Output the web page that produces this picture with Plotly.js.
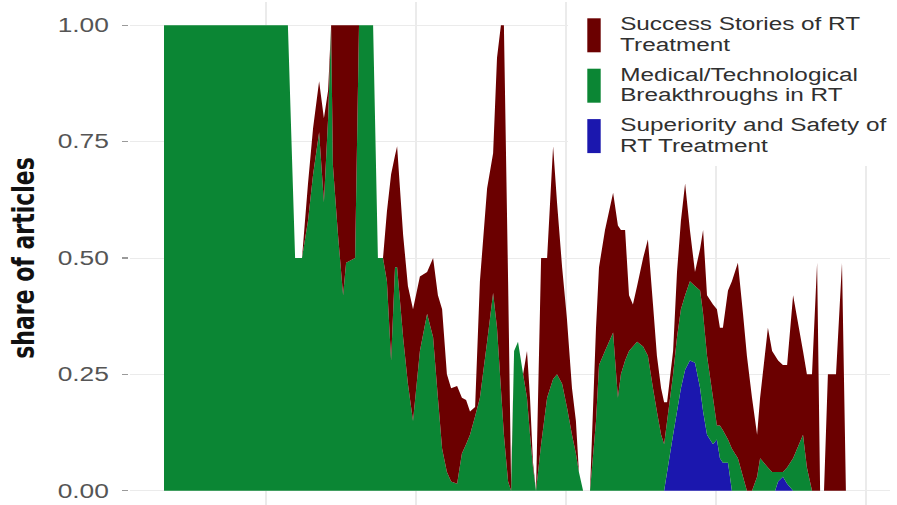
<!DOCTYPE html>
<html>
<head>
<meta charset="utf-8">
<script src="https://cdn.plot.ly/plotly-3.0.1.min.js"></script>
<style>
  html, body { margin: 0; padding: 0; background: #ffffff; overflow: hidden; }
  /* the figure is laid out narrow and widened horizontally */
  #chart { width: 664px; height: 514px; transform: scaleX(1.350904); transform-origin: 0 0; }
</style>
</head>
<body>
<div id="chart"></div>
<script>
// Publication dates (decimal years) of each observation
const years = [
  1996.60, 2000.73, 2000.97, 2001.20, 2001.40, 2001.57, 2001.77, 2001.93, 2002.07, 2002.17,
  2002.23, 2002.40, 2002.57, 2002.67, 2002.97, 2003.10, 2003.57, 2003.73, 2003.90, 2004.03,
  2004.17, 2004.30, 2004.37, 2004.57, 2004.73, 2004.90, 2005.13, 2005.37, 2005.57, 2005.73,
  2005.87, 2006.03, 2006.17, 2006.37, 2006.53, 2006.67, 2006.80, 2006.97, 2007.13, 2007.37,
  2007.57, 2007.70, 2007.83, 2007.93, 2008.07, 2008.17, 2008.27, 2008.40, 2008.57, 2008.70,
  2008.80, 2008.90, 2009.00, 2009.17, 2009.37, 2009.57, 2009.70, 2009.87, 2010.03, 2010.20,
  2010.33, 2010.43, 2010.57, 2010.80, 2011.00, 2011.10, 2011.30, 2011.57, 2011.73, 2011.83,
  2011.97, 2012.10, 2012.23, 2012.37, 2012.57, 2012.73, 2012.90, 2013.03, 2013.17, 2013.27,
  2013.37, 2013.57, 2013.70, 2013.83, 2013.97, 2014.13, 2014.30, 2014.47, 2014.57, 2014.70,
  2014.90, 2015.03, 2015.13, 2015.23, 2015.40, 2015.53, 2015.73, 2015.90, 2016.03, 2016.20,
  2016.37, 2016.47, 2016.73, 2016.87, 2016.97, 2017.07, 2017.23, 2017.37, 2017.57, 2017.90,
  2018.03, 2018.20, 2018.37, 2018.47, 2018.60, 2018.73, 2019.00, 2019.20, 2019.33
];

// Share of articles per frame
const superiority = [
  0, 0, 0, 0, 0, 0, 0, 0, 0, 0,
  0, 0, 0, 0, 0, 0, 0, 0, 0, 0,
  0, 0, 0, 0, 0, 0, 0, 0, 0, 0,
  0, 0, 0, 0, 0, 0, 0, 0, 0, 0,
  0, 0, 0, 0, 0, 0, 0, 0, 0, 0,
  0, 0, 0, 0, 0, 0, 0, 0, 0, 0,
  0, 0, 0, 0, 0, 0, 0, 0, 0, 0,
  0, 0, 0, 0, 0, 0, 0, 0, 0, 0,
  0.04, 0.12, 0.17, 0.22, 0.26, 0.28, 0.275, 0.22, 0.17, 0.12,
  0.10, 0.11, 0.07, 0.06, 0.06, 0, 0, 0, 0, 0,
  0, 0, 0, 0, 0, 0.02, 0.03, 0.015, 0, 0,
  0, 0, 0, 0, 0, 0, 0, 0, 0
];

const breakthroughs = [
  1, 1, 0.5, 0.5, 0.58, 0.68, 0.77, 0.62, 0.80, 1.00,
  0.70, 0.55, 0.42, 0.49, 0.50, 1.00, 1.00, 0.50, 0.50, 0.45,
  0.28, 0.48, 0.48, 0.33, 0.23, 0.15, 0.30, 0.38, 0.33, 0.20,
  0.09, 0.04, 0.02, 0.015, 0.08, 0.10, 0.12, 0.16, 0.20, 0.32,
  0.425, 0.35, 0.22, 0.12, 0.02, 0, 0.30, 0.32, 0.25, 0.20,
  0.12, 0.05, 0, 0.10, 0.20, 0.24, 0.25, 0.23, 0.18, 0.12,
  0.08, 0.04, 0, 0, 0.15, 0.27, 0.30, 0.34, 0.20, 0.25,
  0.28, 0.30, 0.31, 0.32, 0.31, 0.29, 0.22, 0.17, 0.12, 0.10,
  0.11, 0.13, 0.16, 0.17, 0.16, 0.17, 0.165, 0.21, 0.21, 0.17,
  0.10, 0.03, 0.07, 0.07, 0.05, 0.09, 0.07, 0.03, 0, 0,
  0.03, 0.07, 0.05, 0.04, 0.04, 0.02, 0.01, 0.035, 0.07, 0.12,
  0.05, 0, 0, 0, 0, 0, 0, 0, 0
];

const successStories = [
  0, 0, 0, 0, 0.08, 0.10, 0.11, 0.18, 0.06, 0,
  0.30, 0.45, 0.58, 0.51, 0.50, 0, 0, 0, 0, 0.15,
  0.40, 0.24, 0.26, 0.22, 0.21, 0.24, 0.16, 0.09, 0.17, 0.22,
  0.30, 0.21, 0.20, 0.21, 0.12, 0.095, 0.05, 0.02, 0.25, 0.33,
  0.30, 0.58, 0.78, 0.88, 0.43, 0.02, 0, 0, 0, 0.10,
  0.08, 0.01, 0, 0.40, 0.30, 0.50, 0.37, 0.25, 0.19, 0.10,
  0.07, 0, 0, 0, 0.20, 0.21, 0.26, 0.30, 0.37, 0.31,
  0.28, 0.12, 0.09, 0.12, 0.19, 0.25, 0.18, 0.12, 0.10, 0.09,
  0.04, 0.05, 0.14, 0.19, 0.24, 0.11, 0.03, 0.09, 0.18, 0.13,
  0.20, 0.25, 0.21, 0.22, 0.32, 0.36, 0.42, 0.35, 0.29, 0.20,
  0.09, 0.13, 0.30, 0.26, 0.25, 0.24, 0.23, 0.22, 0.35, 0.18,
  0.20, 0.25, 0.49, 0, 0, 0.25, 0.25, 0.49, 0
];

const seriesNames = [
  "Success Stories of RT Treatment",
  "Medical/Technological Breakthroughs in RT",
  "Superiority and Safety of RT Treatment"
];
const legendLines = [
  ["Success Stories of RT", "Treatment"],
  ["Medical/Technological", "Breakthroughs in RT"],
  ["Superiority and Safety of", "RT Treatment"]
];
const seriesColors = ["#6b0000", "#0b8634", "#1b17ae"];

const yTickVals = [0, 0.25, 0.5, 0.75, 1];
const yTickText = ["0.00", "0.25", "0.50", "0.75", "1.00"];
const xGridVals = [2000, 2005, 2010, 2015, 2020];

// Figure geometry (layout pixels before the horizontal widening)
const STRETCH = 897 / 664;
const FIG_W = 664, FIG_H = 514;
const MARGIN = { l: 96, r: 5, t: 2, b: 0, pad: 0 };
const plotW = FIG_W - MARGIN.l - MARGIN.r;
const plotH = FIG_H - MARGIN.t - MARGIN.b;
// screen pixel -> paper fraction
const fx = sx => (sx / STRETCH - MARGIN.l) / plotW;
const fy = sy => (FIG_H - MARGIN.b - sy) / plotH;

// Stacked areas: bottom layer first
const stackOrder = [
  { y: superiority, k: 2 },
  { y: breakthroughs, k: 1 },
  { y: successStories, k: 0 }
];
const traces = stackOrder.map(s => ({
  type: "scatter",
  x: years,
  y: s.y,
  name: seriesNames[s.k],
  stackgroup: "frames",
  mode: "none",
  fillcolor: seriesColors[s.k],
  showlegend: false,
  hoverinfo: "skip"
}));

// Legend panel drawn as keys + labels at the top right of the panel
const KEY_TOP = 18.3, KEY_H = 34, ITEM_STEP = 50.4;
const LINE_PITCH = 20.8;
const shapes = [{
  type: "rect", xref: "paper", yref: "paper", layer: "above",
  x0: fx(568), x1: fx(900), y0: fy(166), y1: fy(-5),
  fillcolor: "#ffffff", line: { width: 0 }
}];
const annotations = [];
const legendFont = { family: "Liberation Sans, Arial, sans-serif", size: 18, color: "#303030" };
legendLines.forEach((lines, i) => {
  const top = KEY_TOP + i * ITEM_STEP;
  const mid = top + KEY_H / 2;
  shapes.push({
    type: "rect", xref: "paper", yref: "paper", layer: "above",
    x0: fx(587.3), x1: fx(600.7), y0: fy(top + KEY_H), y1: fy(top),
    fillcolor: seriesColors[i], line: { width: 0 }
  });
  lines.forEach((txt, j) => {
    annotations.push({
      xref: "paper", yref: "paper",
      x: fx(620), y: fy(mid + (j - 0.5) * LINE_PITCH - 0.8),
      xanchor: "left", yanchor: "middle",
      borderpad: 0, borderwidth: 0,
      text: txt, showarrow: false, font: legendFont
    });
  });
});

const layout = {
  width: FIG_W, height: FIG_H,
  margin: MARGIN,
  paper_bgcolor: "#ffffff",
  plot_bgcolor: "#ffffff",
  showlegend: false,
  xaxis: {
    range: [1995.456, 2020.808],
    tickmode: "array", tickvals: xGridVals,
    showticklabels: false, ticks: "",
    showgrid: true, gridcolor: "#ebebeb", gridwidth: 1,
    zeroline: false, showline: false, fixedrange: true
  },
  yaxis: {
    range: [-0.05, 1.05],
    tickmode: "array", tickvals: yTickVals, ticktext: yTickText,
    ticks: "outside", ticklen: 4.5, tickwidth: 1.3, tickcolor: "#9a9a9a",
    ticklabelstandoff: 6,
    tickfont: { family: "Liberation Sans, Arial, sans-serif", size: 19.5, color: "#555555" },
    showgrid: true, gridcolor: "#ebebeb", gridwidth: 1,
    zeroline: false, showline: false, fixedrange: true,
    title: {
      text: "share of articles",
      standoff: 10,
      font: { family: "DejaVu Sans, sans-serif", size: 22, color: "#111111", weight: "bold" }
    }
  },
  shapes: shapes,
  annotations: annotations
};

Plotly.newPlot("chart", traces, layout, { displayModeBar: false, staticPlot: true });
</script>
</body>
</html>
